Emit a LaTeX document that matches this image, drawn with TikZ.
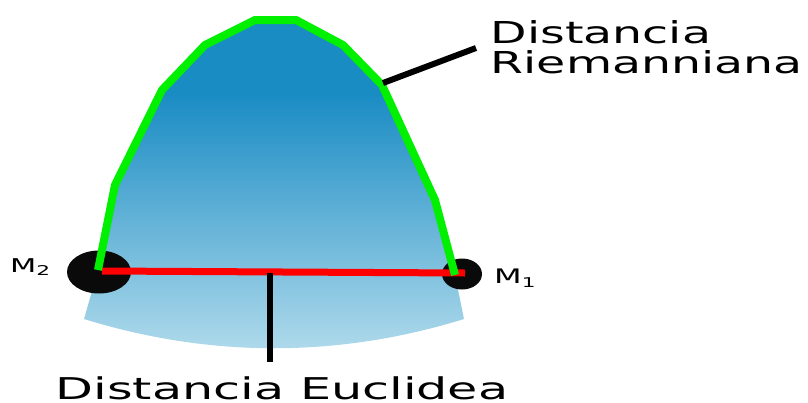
\documentclass[tikz,border=0pt]{standalone}
\usepackage{fontspec}
\usetikzlibrary{shapes.geometric}
\newfontfamily\wfa[FakeStretch=1.57]{DejaVu Sans}
\newfontfamily\wfb[FakeStretch=1.64]{DejaVu Sans}
\newfontfamily\wfm[FakeStretch=1.6]{DejaVu Sans}
\definecolor{darkb}{HTML}{1A8CC4}
\definecolor{lightb}{HTML}{B3DCEC}
\definecolor{geo}{HTML}{00F000}
\definecolor{red1}{HTML}{FF0000}
\definecolor{blob}{HTML}{0A0A0A}
\pgfdeclareverticalshading{blueshade}{100bp}{color(0bp)=(lightb); color(25bp)=(lightb); color(64bp)=(darkb); color(100bp)=(darkb)}
\tikzset{
  point/.style={ellipse, fill=blob, inner sep=0pt},
  geoline/.style={draw=geo, line width=8pt, line join=miter},
  euline/.style={draw=red1, line width=7pt},
  leader/.style={draw=black, line width=6pt},
  biglbl/.style={inner sep=0pt, anchor=base west},
}
\begin{document}
\begin{tikzpicture}[x=1pt,y=-1pt]
\useasboundingbox (0,0) rectangle (808,402);
% coordinates of the geodesic
\coordinate (g0) at (98,270);
\coordinate (g1) at (115,185);
\coordinate (g2) at (162,90);
\coordinate (g3) at (205,45);
\coordinate (g4) at (255,20);
\coordinate (g5) at (296,20);
\coordinate (g6) at (343,45);
\coordinate (g7) at (382,85);
\coordinate (g8) at (435,200);
\coordinate (g9) at (455,275);
% surface
\shade[shading=blueshade] (84,319) -- (g0) -- (g1) -- (g2) -- (g3) -- (g4) -- (g5) -- (g6) -- (g7) -- (g8) -- (g9) -- (464,319)
  .. controls (338,358) and (210,358) .. (84,319) -- cycle;
% points
\node[point, minimum width=64pt, minimum height=43pt] (m2) at (99,272) {};
\node[point, minimum width=40pt, minimum height=31pt] (m1) at (462,274) {};
% euclidean segment
\coordinate (e0) at (102,271);
\coordinate (e1) at (465,273);
\draw[euline] (e0) -- (e1);
% geodesic
\draw[geoline] (g0) -- (g1) -- (g2) -- (g3) -- (g4) -- (g5) -- (g6) -- (g7) -- (g8) -- (g9);
% leaders
\coordinate (rl0) at (383,83);
\coordinate (rl1) at (476,48);
\draw[leader] (rl0) -- (rl1);
\coordinate (el0) at (270,273);
\coordinate (el1) at (270,362);
\draw[leader] (el0) -- (el1);
% labels
\node[biglbl] (rd) at (490.5,43) {\fontsize{30.2}{30}\wfa Distancia};
\node[biglbl] (rr) at (490.5,73) {\fontsize{30.2}{30}\wfa Riemanniana};
\node[biglbl] (ed) at (55.5,399) {\fontsize{30}{30}\wfb Distancia Euclidea};
\node[biglbl] (lm2) at (10,272) {\fontsize{19}{19}\wfm M\raisebox{-3pt}{\fontsize{13.5}{13.5}\wfm 2}};
\node[biglbl] (lm1) at (494,283) {\fontsize{20}{20}\wfm M\raisebox{-4pt}{\fontsize{13.5}{13.5}\wfm 1}};
\end{tikzpicture}
\end{document}
